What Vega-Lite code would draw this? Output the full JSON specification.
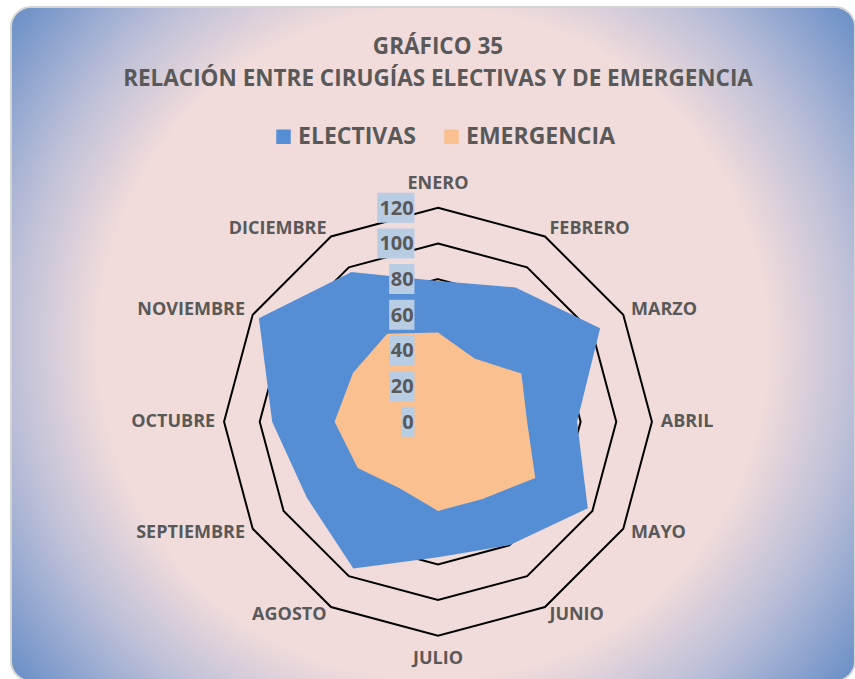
{
  "$schema": "https://vega.github.io/schema/vega-lite/v6.json",
  "width": 844,
  "height": 674,
  "autosize": {"type": "none"},
  "padding": {"left": 11, "top": 7, "right": 0, "bottom": 0},
  "background": "white",
  "config": {"view": {"stroke": null}, "font": "Open Sans"},
  "title": {
    "text": ["GRÁFICO 35", "RELACIÓN ENTRE CIRUGÍAS ELECTIVAS Y DE EMERGENCIA"],
    "font": "Open Sans",
    "fontSize": 22.5,
    "fontWeight": "bold",
    "color": "#595959",
    "anchor": "middle",
    "frame": "group",
    "baseline": "top",
    "offset": -84,
    "lineHeight": 32,
    "dx": 5
  },
  "datasets": {
    "cirugias": [
      {"mes": "ENERO", "ELECTIVAS": 79, "EMERGENCIA": 50},
      {"mes": "FEBRERO", "ELECTIVAS": 87, "EMERGENCIA": 41},
      {"mes": "MARZO", "ELECTIVAS": 105, "EMERGENCIA": 54},
      {"mes": "ABRIL", "ELECTIVAS": 78, "EMERGENCIA": 50},
      {"mes": "MAYO", "ELECTIVAS": 97, "EMERGENCIA": 63},
      {"mes": "JUNIO", "ELECTIVAS": 80, "EMERGENCIA": 50},
      {"mes": "JULIO", "ELECTIVAS": 76, "EMERGENCIA": 50},
      {"mes": "AGOSTO", "ELECTIVAS": 95, "EMERGENCIA": 43},
      {"mes": "SEPTIEMBRE", "ELECTIVAS": 85, "EMERGENCIA": 52},
      {"mes": "OCTUBRE", "ELECTIVAS": 93, "EMERGENCIA": 58},
      {"mes": "NOVIEMBRE", "ELECTIVAS": 116, "EMERGENCIA": 55},
      {"mes": "DICIEMBRE", "ELECTIVAS": 97, "EMERGENCIA": 57}
    ],
    "anillos": [
      {"nivel": 20, "mes": ["ENERO","FEBRERO","MARZO","ABRIL","MAYO","JUNIO","JULIO","AGOSTO","SEPTIEMBRE","OCTUBRE","NOVIEMBRE","DICIEMBRE"]},
      {"nivel": 40, "mes": ["ENERO","FEBRERO","MARZO","ABRIL","MAYO","JUNIO","JULIO","AGOSTO","SEPTIEMBRE","OCTUBRE","NOVIEMBRE","DICIEMBRE"]},
      {"nivel": 60, "mes": ["ENERO","FEBRERO","MARZO","ABRIL","MAYO","JUNIO","JULIO","AGOSTO","SEPTIEMBRE","OCTUBRE","NOVIEMBRE","DICIEMBRE"]},
      {"nivel": 80, "mes": ["ENERO","FEBRERO","MARZO","ABRIL","MAYO","JUNIO","JULIO","AGOSTO","SEPTIEMBRE","OCTUBRE","NOVIEMBRE","DICIEMBRE"]},
      {"nivel": 100, "mes": ["ENERO","FEBRERO","MARZO","ABRIL","MAYO","JUNIO","JULIO","AGOSTO","SEPTIEMBRE","OCTUBRE","NOVIEMBRE","DICIEMBRE"]},
      {"nivel": 120, "mes": ["ENERO","FEBRERO","MARZO","ABRIL","MAYO","JUNIO","JULIO","AGOSTO","SEPTIEMBRE","OCTUBRE","NOVIEMBRE","DICIEMBRE"]}
    ],
    "ejes": [{"v": 0}, {"v": 20}, {"v": 40}, {"v": 60}, {"v": 80}, {"v": 100}, {"v": 120}]
  },
  "layer": [
    {
      "data": {"values": [{}]},
      "mark": {
        "type": "rect",
        "cornerRadius": 20,
        "stroke": "#D4D4D4",
        "strokeWidth": 2,
        "fill": {
          "gradient": "radial",
          "x1": 0.5, "y1": 0.5, "r1": 0,
          "x2": 0.5, "y2": 0.5, "r2": 0.66,
          "stops": [
            {"offset": 0, "color": "#F2DCDB"},
            {"offset": 0.6, "color": "#F2DCDB"},
            {"offset": 0.76, "color": "#BCBFD8"},
            {"offset": 1, "color": "#5A86C4"}
          ]
        }
      },
      "encoding": {}
    },
    {
      "data": {"name": "anillos"},
      "transform": [
        {"flatten": ["mes"]},
        {"calculate": "indexof(['ENERO','FEBRERO','MARZO','ABRIL','MAYO','JUNIO','JULIO','AGOSTO','SEPTIEMBRE','OCTUBRE','NOVIEMBRE','DICIEMBRE'], datum.mes)", "as": "i"},
        {"calculate": "datum.nivel * sin(datum.i * PI / 6)", "as": "px"},
        {"calculate": "datum.nivel * cos(datum.i * PI / 6)", "as": "py"}
      ],
      "mark": {"type": "line", "interpolate": "linear-closed", "stroke": "#000000", "strokeWidth": 2},
      "encoding": {
        "x": {"field": "px", "type": "quantitative", "scale": {"domain": [-239.5, 233.9], "nice": false, "zero": false}, "axis": null},
        "y": {"field": "py", "type": "quantitative", "scale": {"domain": [-145.4, 232.6], "nice": false, "zero": false}, "axis": null},
        "detail": {"field": "nivel"},
        "order": {"field": "i"}
      }
    },
    {
      "data": {"name": "cirugias"},
      "transform": [
        {"fold": ["ELECTIVAS", "EMERGENCIA"], "as": ["serie", "valor"]},
        {"calculate": "indexof(['ENERO','FEBRERO','MARZO','ABRIL','MAYO','JUNIO','JULIO','AGOSTO','SEPTIEMBRE','OCTUBRE','NOVIEMBRE','DICIEMBRE'], datum.mes)", "as": "i"},
        {"calculate": "datum.valor * sin(datum.i * PI / 6)", "as": "px"},
        {"calculate": "datum.valor * cos(datum.i * PI / 6)", "as": "py"}
      ],
      "mark": {"type": "line", "interpolate": "linear-closed", "strokeWidth": 0, "strokeOpacity": 0, "fillOpacity": 1},
      "encoding": {
        "x": {"field": "px", "type": "quantitative"},
        "y": {"field": "py", "type": "quantitative"},
        "fill": {
          "field": "serie",
          "type": "nominal",
          "scale": {"domain": ["ELECTIVAS", "EMERGENCIA"], "range": ["#558ED5", "#FAC090"]},
          "legend": {
            "title": null,
            "orient": "none",
            "legendX": 261,
            "legendY": 118,
            "direction": "horizontal",
            "symbolType": "square",
            "symbolSize": 210,
            "symbolStrokeWidth": 0,
            "symbolOpacity": 1,
            "labelFont": "Open Sans",
            "labelFontSize": 23,
            "labelFontWeight": "bold",
            "labelColor": "#595959",
            "labelOffset": 3,
            "columnPadding": 24
          }
        },
        "order": {"field": "i"}
      }
    },
    {
      "data": {"name": "ejes"},
      "transform": [
        {"calculate": "length(toString(datum.v))", "as": "d"},
        {"calculate": "-13.2 - (datum.d * 11.9 + 1.5) / 1.783", "as": "x1"},
        {"calculate": "-13.2", "as": "x2"},
        {"calculate": "datum.v + 8.4", "as": "y1"},
        {"calculate": "datum.v - 8.4", "as": "y2"}
      ],
      "mark": {"type": "rect", "fill": "#B8CCE4"},
      "encoding": {
        "x": {"field": "x1", "type": "quantitative"},
        "x2": {"field": "x2"},
        "y": {"field": "y1", "type": "quantitative"},
        "y2": {"field": "y2"}
      }
    },
    {
      "data": {"name": "ejes"},
      "transform": [{"calculate": "-13.6", "as": "tx"}],
      "mark": {"type": "text", "align": "right", "baseline": "middle", "font": "Open Sans", "fontSize": 20, "fontWeight": "bold", "color": "#595959", "dy": 1},
      "encoding": {
        "x": {"field": "tx", "type": "quantitative"},
        "y": {"field": "v", "type": "quantitative"},
        "text": {"field": "v", "type": "quantitative"}
      }
    },
    {
      "data": {"name": "cirugias"},
      "transform": [
        {"calculate": "indexof(['ENERO','FEBRERO','MARZO','ABRIL','MAYO','JUNIO','JULIO','AGOSTO','SEPTIEMBRE','OCTUBRE','NOVIEMBRE','DICIEMBRE'], datum.mes)", "as": "i"},
        {"filter": "datum.i >= 1 && datum.i <= 5"},
        {"calculate": "125 * sin(datum.i * PI / 6)", "as": "lx"},
        {"calculate": "125 * cos(datum.i * PI / 6)", "as": "ly"}
      ],
      "mark": {"type": "text", "align": "left", "baseline": "middle", "font": "Open Sans", "fontSize": 18, "fontWeight": "bold", "color": "#595959"},
      "encoding": {
        "x": {"field": "lx", "type": "quantitative"},
        "y": {"field": "ly", "type": "quantitative"},
        "text": {"field": "mes"}
      }
    },
    {
      "data": {"name": "cirugias"},
      "transform": [
        {"calculate": "indexof(['ENERO','FEBRERO','MARZO','ABRIL','MAYO','JUNIO','JULIO','AGOSTO','SEPTIEMBRE','OCTUBRE','NOVIEMBRE','DICIEMBRE'], datum.mes)", "as": "i"},
        {"filter": "datum.i >= 7"},
        {"calculate": "125 * sin(datum.i * PI / 6)", "as": "lx"},
        {"calculate": "125 * cos(datum.i * PI / 6)", "as": "ly"}
      ],
      "mark": {"type": "text", "align": "right", "baseline": "middle", "font": "Open Sans", "fontSize": 18, "fontWeight": "bold", "color": "#595959"},
      "encoding": {
        "x": {"field": "lx", "type": "quantitative"},
        "y": {"field": "ly", "type": "quantitative"},
        "text": {"field": "mes"}
      }
    },
    {
      "data": {"name": "cirugias"},
      "transform": [
        {"calculate": "indexof(['ENERO','FEBRERO','MARZO','ABRIL','MAYO','JUNIO','JULIO','AGOSTO','SEPTIEMBRE','OCTUBRE','NOVIEMBRE','DICIEMBRE'], datum.mes)", "as": "i"},
        {"filter": "datum.i == 0 || datum.i == 6"},
        {"calculate": "133.3 * sin(datum.i * PI / 6)", "as": "lx"},
        {"calculate": "133.3 * cos(datum.i * PI / 6)", "as": "ly"}
      ],
      "mark": {"type": "text", "align": "center", "baseline": "middle", "font": "Open Sans", "fontSize": 18, "fontWeight": "bold", "color": "#595959"},
      "encoding": {
        "x": {"field": "lx", "type": "quantitative"},
        "y": {"field": "ly", "type": "quantitative"},
        "text": {"field": "mes"}
      }
    }
  ]
}
